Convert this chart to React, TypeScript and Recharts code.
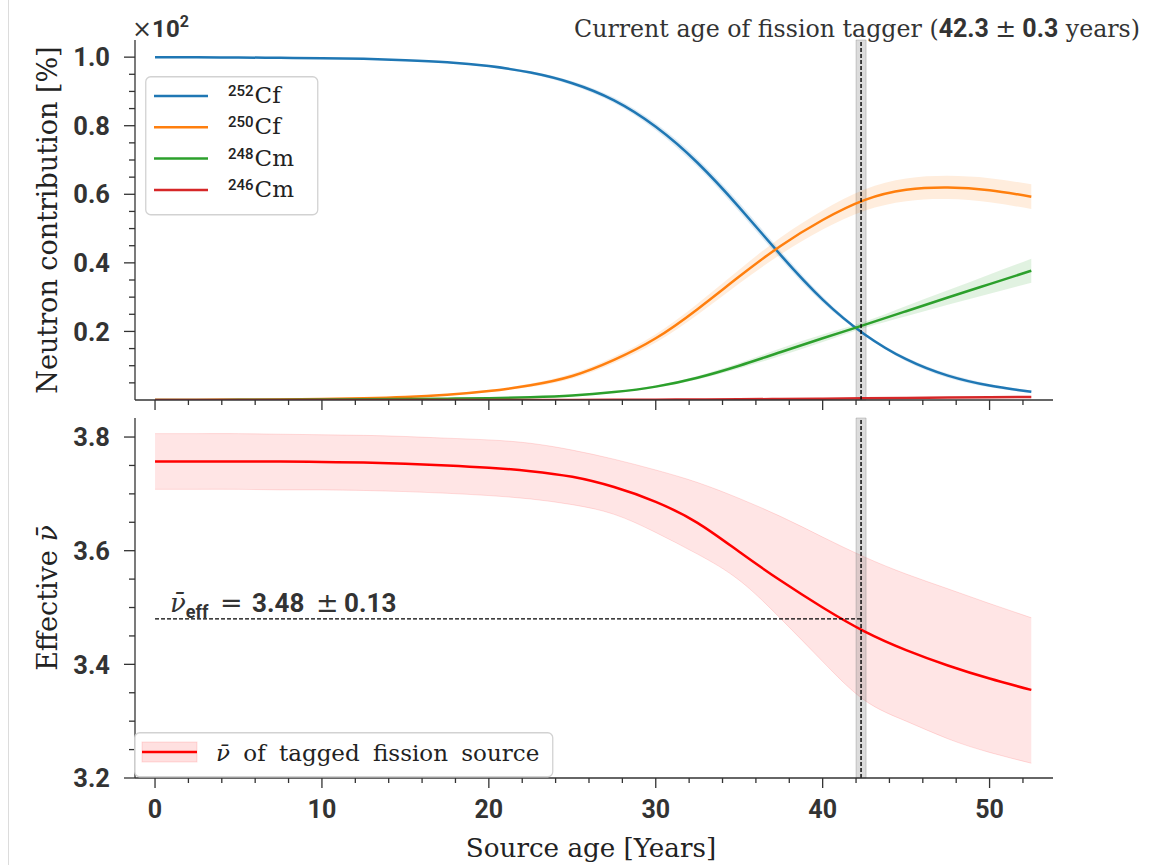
import React from 'react';
import { ComposedChart, Line, Area, XAxis, YAxis, ReferenceLine, ReferenceArea, Legend } from 'recharts';

// source age grid [years]
const ages = [0, 2.5, 5, 7.5, 10, 12.5, 15, 17.5, 20, 22.5, 25, 27.5, 30, 32.5, 35, 37.5, 40, 42.5, 45, 47.5, 50, 52.5];

// neutron contribution (x10^2 %) per isotope, with 1-sigma band half width
const cf252 = [0.9997, 0.9995, 0.999, 0.998, 0.997, 0.995, 0.991, 0.985, 0.974, 0.955, 0.924, 0.874, 0.797, 0.692, 0.562, 0.422, 0.293, 0.192, 0.119, 0.071, 0.042, 0.024];
const cf252Err = [0, 0, 0, 0, 0.0005, 0.001, 0.001, 0.002, 0.003, 0.004, 0.006, 0.008, 0.01, 0.012, 0.013, 0.012, 0.009, 0.004, 0.006, 0.006, 0.005, 0.004];
const cf250 = [0, 0.0003, 0.0008, 0.0015, 0.0028, 0.005, 0.0085, 0.015, 0.026, 0.043, 0.07, 0.117, 0.18, 0.265, 0.36, 0.45, 0.525, 0.583, 0.613, 0.62, 0.612, 0.593];
const cf250Err = [0, 0, 0, 0, 0, 0.001, 0.001, 0.002, 0.003, 0.005, 0.007, 0.009, 0.012, 0.016, 0.02, 0.025, 0.028, 0.031, 0.033, 0.034, 0.035, 0.036];
const cm248 = [0, 0.0002, 0.0005, 0.001, 0.0015, 0.002, 0.003, 0.004, 0.005, 0.008, 0.013, 0.023, 0.039, 0.065, 0.1, 0.14, 0.18, 0.219, 0.259, 0.299, 0.338, 0.377];
const cm248Err = [0, 0, 0, 0, 0, 0, 0, 0.001, 0.001, 0.001, 0.002, 0.002, 0.003, 0.005, 0.008, 0.011, 0.011, 0.009, 0.015, 0.021, 0.028, 0.035];
const cm246 = [0, 0, 0, 0, 0, 0, 0, 0, 0, 0, 0.0002, 0.0005, 0.001, 0.0015, 0.002, 0.003, 0.004, 0.005, 0.006, 0.007, 0.008, 0.009];
const cm246Err = [0, 0, 0, 0, 0, 0, 0, 0, 0, 0, 0, 0.0003, 0.0005, 0.0005, 0.0005, 0.0005, 0.0005, 0.0005, 0.0008, 0.001, 0.001, 0.001];

// effective nu-bar of the tagged source
const nuMean = [3.757, 3.757, 3.757, 3.757, 3.756, 3.755, 3.753, 3.75, 3.746, 3.74, 3.73, 3.712, 3.686, 3.649, 3.598, 3.547, 3.5, 3.458, 3.425, 3.398, 3.375, 3.355];
const nuHigh = [3.806, 3.806, 3.806, 3.805, 3.804, 3.803, 3.801, 3.798, 3.795, 3.789, 3.777, 3.761, 3.742, 3.72, 3.692, 3.66, 3.624, 3.589, 3.559, 3.533, 3.507, 3.482];
const nuLow = [3.708, 3.708, 3.708, 3.707, 3.707, 3.706, 3.704, 3.701, 3.697, 3.691, 3.681, 3.664, 3.632, 3.594, 3.548, 3.48, 3.405, 3.337, 3.3, 3.269, 3.245, 3.226];

const currentAge = 42.3;
const currentAgeErr = 0.3;
const nuEff = 3.48;
const nuEffErr = 0.13;

const isotopeMass = ['252', '250', '248', '246'];
const isotopeElem = ['Cf', 'Cf', 'Cm', 'Cm'];
const isotopeColors = ['#1f77b4', '#ff7f0e', '#2ca02c', '#d62728'];

const xMajor = [0, 10, 20, 30, 40, 50];
const xMinor = [2, 4, 6, 8, 12, 14, 16, 18, 22, 24, 26, 28, 32, 34, 36, 38, 42, 44, 46, 48, 52];
const topYMajor = [0.2, 0.4, 0.6, 0.8, 1.0];
const topYMinor = [0.05, 0.1, 0.15, 0.25, 0.3, 0.35, 0.45, 0.5, 0.55, 0.65, 0.7, 0.75, 0.85, 0.9, 0.95];
const botYMajor = [3.2, 3.4, 3.6, 3.8];
const botYMinor = [3.25, 3.3, 3.35, 3.45, 3.5, 3.55, 3.65, 3.7, 3.75];

const SANS = 'Roboto, "DejaVu Sans", sans-serif';
const SERIF = '"DejaVu Serif", serif';
const MATH = '"DejaVu Sans", sans-serif';
const AXIS = '#333333';
const TEXT = '#222222';
const X_DOMAIN: [number, number] = [-1.2, 53.8];
const CURVE = 'natural';

const band = (v: number[], e: number[], i: number) => [Math.max(0, v[i] - e[i]), v[i] + e[i]];

const topData = ages.map((age, i) => ({
  age,
  cf252: cf252[i],
  cf250: cf250[i],
  cm248: cm248[i],
  cm246: cm246[i],
  cf252Band: band(cf252, cf252Err, i),
  cf250Band: band(cf250, cf250Err, i),
  cm248Band: band(cm248, cm248Err, i),
  cm246Band: band(cm246, cm246Err, i),
}));

const bottomData = ages.map((age, i) => ({
  age,
  nu: nuMean[i],
  nuBand: [nuLow[i], nuHigh[i]],
}));

const isMajor = (list: number[], v: number) => list.some((m) => Math.abs(m - v) < 1e-9);

const XTick = (props: any) => {
  const { x, y, payload, showLabel } = props;
  const major = isMajor(xMajor, payload.value);
  return (
    <g>
      <line x1={x} x2={x} y1={y} y2={y + (major ? 10 : 5)} stroke={AXIS} strokeWidth={1.3} />
      {showLabel && major && (
        <text x={x} y={y + 40} textAnchor="middle" fontFamily={SANS} fontWeight={700} fontSize={25} fill={AXIS}>
          {payload.value}
        </text>
      )}
    </g>
  );
};

const YTick = (props: any) => {
  const { x, y, payload, majors } = props;
  const major = isMajor(majors, payload.value);
  return (
    <g>
      <line x1={x - (major ? 11 : 6)} x2={x} y1={y} y2={y} stroke={AXIS} strokeWidth={1.3} />
      {major && (
        <text x={x - 25} y={y} dy="0.36em" textAnchor="end" fontFamily={SANS} fontWeight={700} fontSize={25.5} fill={AXIS}>
          {payload.value.toFixed(1)}
        </text>
      )}
    </g>
  );
};

const TopLegend = () => (
  <svg width={175} height={141} style={{ display: 'block' }}>
    <rect x={0.75} y={0.75} width={172} height={138} rx={5} fill="#fff" fillOpacity={0.85} stroke="#d2d2d2" strokeWidth={1.3} />
    {isotopeMass.map((m, i) => {
      const cy = 20 + i * 31.3;
      return (
        <g key={m}>
          <line x1={9} x2={63} y1={cy} y2={cy} stroke={isotopeColors[i]} strokeWidth={2.5} />
          <text x={83} y={cy + 7} fill={TEXT}>
            <tspan fontFamily={SANS} fontSize={15} fontWeight={500} dy={-7}>{m}</tspan>
            <tspan fontFamily={SERIF} fontSize={23} dy={7} dx={1}>{isotopeElem[i]}</tspan>
          </text>
        </g>
      );
    })}
  </svg>
);

const BottomLegend = () => (
  <svg width={421} height={47} style={{ display: 'block' }}>
    <rect x={0.75} y={0.75} width={418} height={44} rx={5} fill="#fff" fillOpacity={0.85} stroke="#d2d2d2" strokeWidth={1.3} />
    <rect x={8} y={10} width={55} height={20} fill="#ff0000" fillOpacity={0.12} stroke="#ff0000" strokeOpacity={0.12} />
    <line x1={8} x2={63} y1={20} y2={20} stroke="#ff0000" strokeWidth={2.5} />
    <text x={82} y={29} fontFamily={SERIF} fontSize={23} fill={TEXT} wordSpacing={6}>
      <tspan fontStyle="italic">{'\u03bd\u0304'}</tspan>
      <tspan> of tagged fission source</tspan>
    </text>
  </svg>
);

const TitleLabel = (props: any) => {
  const vb = props.viewBox || {};
  return (
    <text x={vb.x - 4} y={vb.y - 3} textAnchor="middle" fontFamily={SERIF} fontSize={23.7} fill={AXIS}>
      <tspan>Current age of fission tagger (</tspan>
      <tspan fontFamily={SANS} fontWeight={700} fontSize={25}>{`${currentAge} `}</tspan>
      <tspan fontFamily={MATH} fontSize={25}>{'\u00b1'}</tspan>
      <tspan fontFamily={SANS} fontWeight={700} fontSize={25}>{` ${currentAgeErr}`}</tspan>
      <tspan> years)</tspan>
    </text>
  );
};

const NuEffLabel = (props: any) => {
  const vb = props.viewBox || {};
  const x0 = vb.x;
  const y0 = vb.y - 7;
  return (
    <text x={x0 + 15} y={y0} fontFamily={SANS} fontWeight={700} fontSize={26} fill={AXIS}>
      <tspan fontFamily={SERIF} fontStyle="italic" fontWeight={400}>{'\u03bd\u0304'}</tspan>
      <tspan fontSize={18} dy={6}>eff</tspan>
      <tspan x={x0 + 65} y={y0} fontFamily={MATH} fontWeight={400} fontSize={27}>=</tspan>
      <tspan x={x0 + 97} y={y0}>{nuEff}</tspan>
      <tspan x={x0 + 161} y={y0} fontFamily={MATH} fontWeight={400} fontSize={27}>{'\u00b1'}</tspan>
      <tspan x={x0 + 189} y={y0}>{nuEffErr}</tspan>
    </text>
  );
};

const TopYLabel = (props: any) => {
  const vb = props.viewBox || {};
  const cy = vb.y + vb.height / 2;
  const ax = vb.x + vb.width;
  return (
    <g>
      <text x={57} y={cy} transform={`rotate(-90 57 ${cy})`} textAnchor="middle" fontFamily={SERIF} fontSize={27} fill={TEXT}>
        Neutron contribution [%]
      </text>
      <text x={ax - 3} y={vb.y - 3} fill={AXIS}>
        <tspan fontFamily={SERIF} fontSize={24}>{'\u00d7'}</tspan>
        <tspan fontFamily={SANS} fontWeight={700} fontSize={24}>10</tspan>
        <tspan fontFamily={SANS} fontWeight={700} fontSize={16} dy={-10}>2</tspan>
      </text>
    </g>
  );
};

const BottomYLabel = (props: any) => {
  const vb = props.viewBox || {};
  const cy = vb.y + vb.height / 2;
  return (
    <text x={57} y={cy} transform={`rotate(-90 57 ${cy})`} textAnchor="middle" fontFamily={SERIF} fontSize={27} fill={TEXT}>
      <tspan>Effective </tspan>
      <tspan fontStyle="italic">{'\u03bd\u0304'}</tspan>
    </text>
  );
};

const XLabel = (props: any) => {
  const vb = props.viewBox || {};
  return (
    <text x={vb.x + vb.width / 2 - 3} y={vb.y + 79} textAnchor="middle" fontFamily={SERIF} fontSize={26.2} fill={TEXT}>
      Source age [Years]
    </text>
  );
};

const App = () => {
  const xTicks = [...xMajor, ...xMinor].sort((a, b) => a - b);
  const topYTicks = [...topYMinor, ...topYMajor].sort((a, b) => a - b);
  const botYTicks = [...botYMinor, ...botYMajor].sort((a, b) => a - b);
  const ageLo = currentAge - currentAgeErr;
  const ageHi = currentAge + currentAgeErr;

  return (
    <div style={{ position: 'absolute', left: 0, top: 0, width: 1149, height: 865, background: '#fff' }}>
      <div style={{ position: 'absolute', left: 8, top: 0, width: 1, height: 865, background: '#dcdcdc' }} />

      <div style={{ position: 'absolute', left: 0, top: 0 }}>
        <ComposedChart width={1149} height={420} data={topData} margin={{ top: 40, right: 96, bottom: 19, left: 134 }}>
          <XAxis
            dataKey="age"
            type="number"
            domain={X_DOMAIN}
            ticks={xTicks}
            height={1}
            tickSize={0}
            tickMargin={0}
            tickLine={false}
            axisLine={{ stroke: AXIS, strokeWidth: 1.3 }}
            tick={(p: any) => <XTick {...p} showLabel={false} />}
            interval={0}
            allowDataOverflow
          />
          <YAxis
            type="number"
            domain={[0, 1.05]}
            ticks={topYTicks}
            width={1}
            tickSize={0}
            tickMargin={0}
            tickLine={false}
            axisLine={{ stroke: AXIS, strokeWidth: 1.3 }}
            tick={(p: any) => <YTick {...p} majors={topYMajor} />}
            interval={0}
            allowDataOverflow
            label={{ content: TopYLabel }}
          />
          <ReferenceArea x1={ageLo} x2={ageHi} fill="#808080" fillOpacity={0.28} stroke="#808080" strokeOpacity={0.35} />
          <Area type={CURVE} dataKey="cf252Band" stroke="none" fill={isotopeColors[0]} fillOpacity={0.15} isAnimationActive={false} activeDot={false} />
          <Area type={CURVE} dataKey="cf250Band" stroke="none" fill={isotopeColors[1]} fillOpacity={0.14} isAnimationActive={false} activeDot={false} />
          <Area type={CURVE} dataKey="cm248Band" stroke="none" fill={isotopeColors[2]} fillOpacity={0.14} isAnimationActive={false} activeDot={false} />
          <Area type={CURVE} dataKey="cm246Band" stroke="none" fill={isotopeColors[3]} fillOpacity={0.14} isAnimationActive={false} activeDot={false} />
          <Line type={CURVE} dataKey="cf252" stroke={isotopeColors[0]} strokeWidth={2.5} dot={false} isAnimationActive={false} />
          <Line type={CURVE} dataKey="cf250" stroke={isotopeColors[1]} strokeWidth={2.5} dot={false} isAnimationActive={false} />
          <Line type={CURVE} dataKey="cm248" stroke={isotopeColors[2]} strokeWidth={2.5} dot={false} isAnimationActive={false} />
          <Line type={CURVE} dataKey="cm246" stroke={isotopeColors[3]} strokeWidth={2.5} dot={false} isAnimationActive={false} />
          <ReferenceLine x={currentAge} stroke="#000" strokeWidth={1.4} strokeDasharray="4 2" label={{ content: TitleLabel }} />
          <Legend
            layout="vertical"
            align="center"
            verticalAlign="middle"
            content={() => <TopLegend />}
            wrapperStyle={{ left: 145, top: 76, width: 175, height: 141 }}
          />
        </ComposedChart>
      </div>

      <div style={{ position: 'absolute', left: 0, top: 400 }}>
        <ComposedChart width={1149} height={465} data={bottomData} margin={{ top: 18, right: 96, bottom: 86, left: 134 }}>
          <XAxis
            dataKey="age"
            type="number"
            domain={X_DOMAIN}
            ticks={xTicks}
            height={1}
            tickSize={0}
            tickMargin={0}
            tickLine={false}
            axisLine={{ stroke: AXIS, strokeWidth: 1.3 }}
            tick={(p: any) => <XTick {...p} showLabel />}
            interval={0}
            allowDataOverflow
            label={{ content: XLabel }}
          />
          <YAxis
            type="number"
            domain={[3.2, 3.8335]}
            ticks={botYTicks}
            width={1}
            tickSize={0}
            tickMargin={0}
            tickLine={false}
            axisLine={{ stroke: AXIS, strokeWidth: 1.3 }}
            tick={(p: any) => <YTick {...p} majors={botYMajor} />}
            interval={0}
            allowDataOverflow
            label={{ content: BottomYLabel }}
          />
          <Area type={CURVE} dataKey="nuBand" stroke="#ff0000" strokeOpacity={0.12} fill="#ff0000" fillOpacity={0.1} isAnimationActive={false} activeDot={false} />
          <ReferenceArea x1={ageLo} x2={ageHi} fill="#808080" fillOpacity={0.28} stroke="#808080" strokeOpacity={0.35} />
          <Line type={CURVE} dataKey="nu" stroke="#ff0000" strokeWidth={2.5} dot={false} isAnimationActive={false} />
          <ReferenceLine
            segment={[{ x: 0, y: nuEff }, { x: currentAge, y: nuEff }]}
            stroke="#000"
            strokeWidth={1.2}
            strokeDasharray="4 2"
            label={{ content: NuEffLabel }}
          />
          <ReferenceLine x={currentAge} stroke="#000" strokeWidth={1.4} strokeDasharray="4 2" />
          <Legend
            layout="vertical"
            align="center"
            verticalAlign="middle"
            content={() => <BottomLegend />}
            wrapperStyle={{ left: 134, top: 332, width: 421, height: 47 }}
          />
        </ComposedChart>
      </div>
    </div>
  );
};

export default App;
